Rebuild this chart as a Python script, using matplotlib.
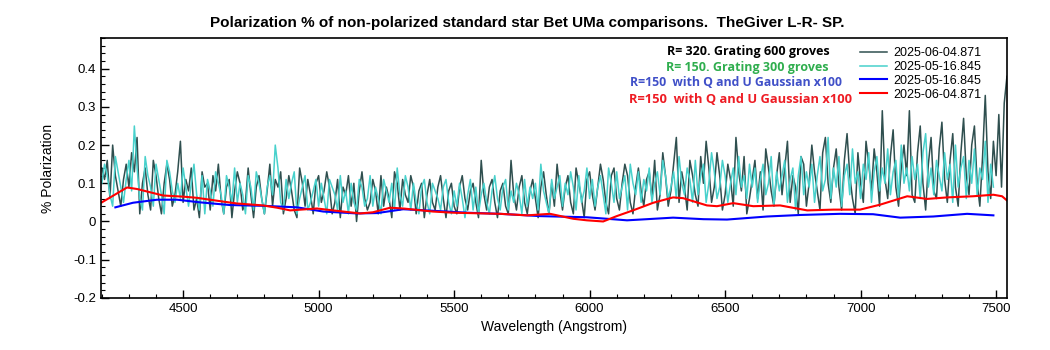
import numpy as np
import matplotlib
matplotlib.use("Agg")
import matplotlib.pyplot as plt
from matplotlib.ticker import MultipleLocator, FuncFormatter

plt.rcParams['font.family'] = ['Liberation Sans', 'DejaVu Sans']

# --- data (polarization %) ---
# 2025-06-04.871, R=320 grating 600, sampled every 10 A from 4200
wl_dark = np.arange(4200, 7541, 10)
pol_dark = [
    0.14, 0.11, 0.16, 0.06, 0.20, 0.12, 0.08, 0.04, 0.11, 0.15,
    0.09, 0.18, 0.13, 0.22, 0.02, 0.10, 0.14, 0.07, 0.03, 0.16,
    0.12, 0.06, 0.02, 0.10, 0.15, 0.11, 0.04, 0.07, 0.13, 0.21,
    0.05, 0.11, 0.08, 0.14, 0.03, 0.06, 0.01, 0.13, 0.09, 0.10,
    0.03, 0.12, 0.08, 0.15, 0.06, 0.02, 0.09, 0.11, 0.01, 0.08,
    0.13, 0.10, 0.03, 0.05, 0.14, 0.07, 0.01, 0.09, 0.12, 0.06,
    0.02, 0.08, 0.15, 0.04, 0.11, 0.09, 0.13, 0.02, 0.06, 0.12,
    0.08, 0.03, 0.01, 0.14, 0.10, 0.04, 0.11, 0.07, 0.02, 0.10,
    0.12, 0.05, 0.08, 0.13, 0.09, 0.02, 0.05, 0.11, 0.01, 0.09,
    0.07, 0.12, 0.04, 0.10, 0.00, 0.08, 0.13, 0.06, 0.03, 0.05,
    0.11, 0.08, 0.02, 0.12, 0.04, 0.09, 0.06, 0.01, 0.13, 0.10,
    0.03, 0.11, 0.07, 0.05, 0.12, 0.09, 0.02, 0.08, 0.10, 0.01,
    0.07, 0.11, 0.05, 0.03, 0.09, 0.12, 0.06, 0.01, 0.08, 0.10,
    0.04, 0.02, 0.09, 0.12, 0.06, 0.03, 0.08, 0.10, 0.05, 0.01,
    0.16, 0.07, 0.03, 0.09, 0.11, 0.05, 0.01, 0.08, 0.10, 0.04,
    0.02, 0.16, 0.07, 0.03, 0.09, 0.12, 0.05, 0.02, 0.08, 0.11,
    0.06, 0.01, 0.09, 0.13, 0.07, 0.02, 0.10, 0.04, 0.15, 0.08,
    0.03, 0.09, 0.12, 0.05, 0.02, 0.14, 0.10, 0.06, 0.01, 0.11,
    0.13, 0.07, 0.03, 0.09, 0.15, 0.11, 0.05, 0.02, 0.12, 0.14,
    0.06, 0.03, 0.10, 0.15, 0.12, 0.05, 0.02, 0.09, 0.14, 0.08,
    0.04, 0.11, 0.13, 0.06, 0.16, 0.03, 0.07, 0.18, 0.12, 0.04,
    0.08, 0.15, 0.22, 0.05, 0.13, 0.09, 0.03, 0.16, 0.12, 0.07,
    0.04, 0.17, 0.10, 0.21, 0.14, 0.05, 0.09, 0.18, 0.12, 0.03,
    0.07, 0.15, 0.11, 0.04, 0.22, 0.13, 0.08, 0.17, 0.02, 0.06,
    0.11, 0.16, 0.06, 0.13, 0.03, 0.19, 0.14, 0.08, 0.04, 0.12,
    0.18, 0.07, 0.14, 0.21, 0.05, 0.12, 0.09, 0.02, 0.17, 0.15,
    0.04, 0.10, 0.20, 0.13, 0.08, 0.03, 0.18, 0.22, 0.10, 0.05,
    0.14, 0.19, 0.09, 0.03, 0.16, 0.23, 0.12, 0.06, 0.02, 0.18,
    0.10, 0.05, 0.21, 0.15, 0.08, 0.19, 0.13, 0.04, 0.29, 0.11,
    0.06, 0.17, 0.24, 0.09, 0.04, 0.14, 0.20, 0.12, 0.29, 0.07,
    0.05, 0.18, 0.25, 0.10, 0.03, 0.15, 0.22, 0.08, 0.06, 0.19,
    0.26, 0.11, 0.05, 0.16, 0.23, 0.09, 0.04, 0.18, 0.27, 0.12,
    0.07, 0.20, 0.25, 0.10, 0.04, 0.17, 0.33, 0.13, 0.06, 0.21,
    0.12, 0.28, 0.09, 0.31, 0.38,
]

# 2025-05-16.845, R=150 grating 300, sampled every 10 A from 4200
wl_cyan = np.arange(4200, 7491, 10)
pol_cyan = [
    0.10, 0.15, 0.12, 0.07, 0.04, 0.17, 0.13, 0.09, 0.05, 0.11,
    0.16, 0.08, 0.25, 0.14, 0.06, 0.03, 0.17, 0.12, 0.09, 0.04,
    0.15, 0.11, 0.07, 0.02, 0.16, 0.13, 0.08, 0.05, 0.10, 0.06,
    0.14, 0.09, 0.04, 0.10, 0.15, 0.07, 0.03, 0.12, 0.02, 0.11,
    0.08, 0.04, 0.13, 0.10, 0.07, 0.02, 0.12, 0.09, 0.05, 0.14,
    0.05, 0.10, 0.07, 0.02, 0.12, 0.09, 0.03, 0.13, 0.10, 0.06,
    0.02, 0.09, 0.12, 0.07, 0.20, 0.14, 0.05, 0.03, 0.11, 0.06,
    0.10, 0.13, 0.02, 0.06, 0.09, 0.12, 0.03, 0.05, 0.08, 0.11,
    0.04, 0.10, 0.06, 0.02, 0.11, 0.09, 0.07, 0.03, 0.12, 0.05,
    0.08, 0.02, 0.10, 0.05, 0.03, 0.11, 0.09, 0.04, 0.06, 0.12,
    0.04, 0.09, 0.06, 0.02, 0.11, 0.08, 0.05, 0.10, 0.03, 0.14,
    0.07, 0.04, 0.12, 0.09, 0.03, 0.10, 0.05, 0.02, 0.09, 0.11,
    0.05, 0.02, 0.10, 0.08, 0.06, 0.03, 0.09, 0.11, 0.05, 0.02,
    0.08, 0.04, 0.10, 0.06, 0.01, 0.07, 0.11, 0.03, 0.09, 0.02,
    0.07, 0.10, 0.05, 0.02, 0.08, 0.12, 0.06, 0.03, 0.09, 0.11,
    0.03, 0.08, 0.05, 0.10, 0.07, 0.02, 0.11, 0.04, 0.09, 0.06,
    0.10, 0.03, 0.15, 0.08, 0.05, 0.02, 0.11, 0.06, 0.09, 0.12,
    0.04, 0.10, 0.07, 0.13, 0.09, 0.03, 0.12, 0.05, 0.08, 0.14,
    0.06, 0.11, 0.04, 0.09, 0.12, 0.07, 0.02, 0.14, 0.10, 0.05,
    0.13, 0.06, 0.09, 0.12, 0.03, 0.15, 0.10, 0.07, 0.13, 0.05,
    0.11, 0.08, 0.14, 0.05, 0.10, 0.13, 0.07, 0.16, 0.12, 0.06,
    0.09, 0.13, 0.06, 0.17, 0.10, 0.07, 0.14, 0.11, 0.05, 0.16,
    0.07, 0.12, 0.15, 0.05, 0.10, 0.18, 0.13, 0.06, 0.09, 0.16,
    0.12, 0.05, 0.10, 0.14, 0.07, 0.17, 0.09, 0.12, 0.06, 0.15,
    0.09, 0.14, 0.05, 0.11, 0.15, 0.07, 0.10, 0.17, 0.04, 0.13,
    0.08, 0.12, 0.16, 0.05, 0.11, 0.14, 0.03, 0.12, 0.17, 0.07,
    0.13, 0.09, 0.15, 0.05, 0.12, 0.17, 0.08, 0.11, 0.22, 0.06,
    0.14, 0.09, 0.17, 0.04, 0.12, 0.15, 0.07, 0.19, 0.10, 0.13,
    0.06, 0.15, 0.11, 0.18, 0.05, 0.13, 0.17, 0.08, 0.14, 0.10,
    0.19, 0.07, 0.13, 0.16, 0.06, 0.20, 0.10, 0.14, 0.08, 0.17,
    0.11, 0.15, 0.06, 0.18, 0.23, 0.09, 0.14, 0.07, 0.16, 0.12,
    0.08, 0.18, 0.11, 0.15, 0.05, 0.20, 0.09, 0.14, 0.17, 0.06,
    0.16, 0.10, 0.19, 0.07, 0.14, 0.11, 0.21, 0.05, 0.15, 0.09,
]

# Gaussian-smoothed Q/U curves (x100)
wl_blue = [4250, 4315, 4404, 4478, 4563, 4673, 4795, 4920, 5017, 5142, 5216,
           5312, 5422, 5547, 5670, 5817, 5990, 6065, 6138, 6212, 6308, 6420,
           6507, 6655, 6777, 6924, 7046, 7146, 7268, 7393, 7490]
pol_blue = [0.037, 0.049, 0.057, 0.057, 0.050, 0.043, 0.041, 0.037, 0.026, 0.021, 0.022,
            0.032, 0.028, 0.023, 0.020, 0.014, 0.011, 0.007, 0.003, 0.006, 0.010, 0.006,
            0.005, 0.013, 0.017, 0.020, 0.019, 0.010, 0.013, 0.020, 0.016]

wl_red = [4200, 4293, 4330, 4426, 4500, 4550, 4648, 4700, 4795, 4847, 4895,
          4994, 5053, 5153, 5200, 5264, 5312, 5422, 5496, 5670, 5770, 5854,
          5940, 5990, 6050, 6100, 6160, 6235, 6308, 6345, 6433, 6470, 6530,
          6604, 6703, 6803, 6900, 6998, 7072, 7172, 7245, 7319, 7415, 7490,
          7522, 7545]
pol_red = [0.050, 0.089, 0.085, 0.068, 0.065, 0.062, 0.052, 0.047, 0.042, 0.036, 0.029,
           0.034, 0.029, 0.021, 0.024, 0.036, 0.034, 0.026, 0.023, 0.020, 0.016, 0.020,
           0.007, 0.003, 0.000, 0.014, 0.029, 0.049, 0.063, 0.061, 0.042, 0.040, 0.048,
           0.040, 0.042, 0.029, 0.031, 0.031, 0.044, 0.066, 0.059, 0.063, 0.066, 0.070,
           0.066, 0.052]

fig = plt.figure(figsize=(10.5, 3.5), dpi=100)
ax = fig.add_axes([0.0962, 0.149, 0.8628, 0.742])

ax.plot(wl_dark, pol_dark, color='#2f4f4f', lw=1.1, label='2025-06-04.871')
ax.plot(wl_cyan, pol_cyan, color='#48d1cc', lw=1.1, label='2025-05-16.845')
ax.plot(wl_blue, pol_blue, color='#0000ff', lw=1.5, label='2025-05-16.845')
ax.plot(wl_red, pol_red, color='#ff0000', lw=1.5, label='2025-06-04.871')

ax.set_xlim(4197, 7540)
ax.set_ylim(-0.2, 0.48)
ax.xaxis.set_major_locator(MultipleLocator(500))
ax.xaxis.set_minor_locator(MultipleLocator(100))
ax.yaxis.set_major_locator(MultipleLocator(0.1))
ax.yaxis.set_minor_locator(MultipleLocator(0.02))
ax.yaxis.set_major_formatter(FuncFormatter(lambda v, p: '0' if abs(v) < 1e-9 else f'{v:.1f}'))
ax.tick_params(which='both', direction='in', top=False, right=False, labelsize=9.5)
ax.tick_params(which='major', length=6, width=1)
ax.tick_params(which='minor', length=3, width=0.8)
for s in ax.spines.values():
    s.set_linewidth(1.2)

ax.set_xlabel('Wavelength (Angstrom)', fontsize=10)
ax.set_ylabel('% Polarization', fontsize=10, labelpad=13)
fig.text(0.502, 0.935, 'Polarization % of non-polarized standard star Bet UMa comparisons.  TheGiver L-R- SP.',
         ha='center', va='center', fontsize=11, fontweight='bold')

ax.legend(loc='upper left', bbox_to_anchor=(0.832, 0.985), frameon=False,
          fontsize=9, handlelength=2.2, labelspacing=0.15, handletextpad=0.5,
          borderaxespad=0)

notes = [
    ('R= 320. Grating 600 groves', '#000000', 830, 52, 9),
    ('R= 150. Grating 300 groves', '#2fae4e', 828, 68, 9),
    ('R=150  with Q and U Gaussian x100', '#4050c8', 842, 83, 8.8),
    ('R=150  with Q and U Gaussian x100', '#ee1c24', 852, 99, 9.3),
]
for txt, col, xr, yc, fs in notes:
    fig.text(xr / 1050, 1 - yc / 350, txt, color=col, ha='right', va='center',
             fontsize=fs, fontweight='bold', family=['Open Sans', 'DejaVu Sans'])

fig.savefig('out.png', dpi=100)
